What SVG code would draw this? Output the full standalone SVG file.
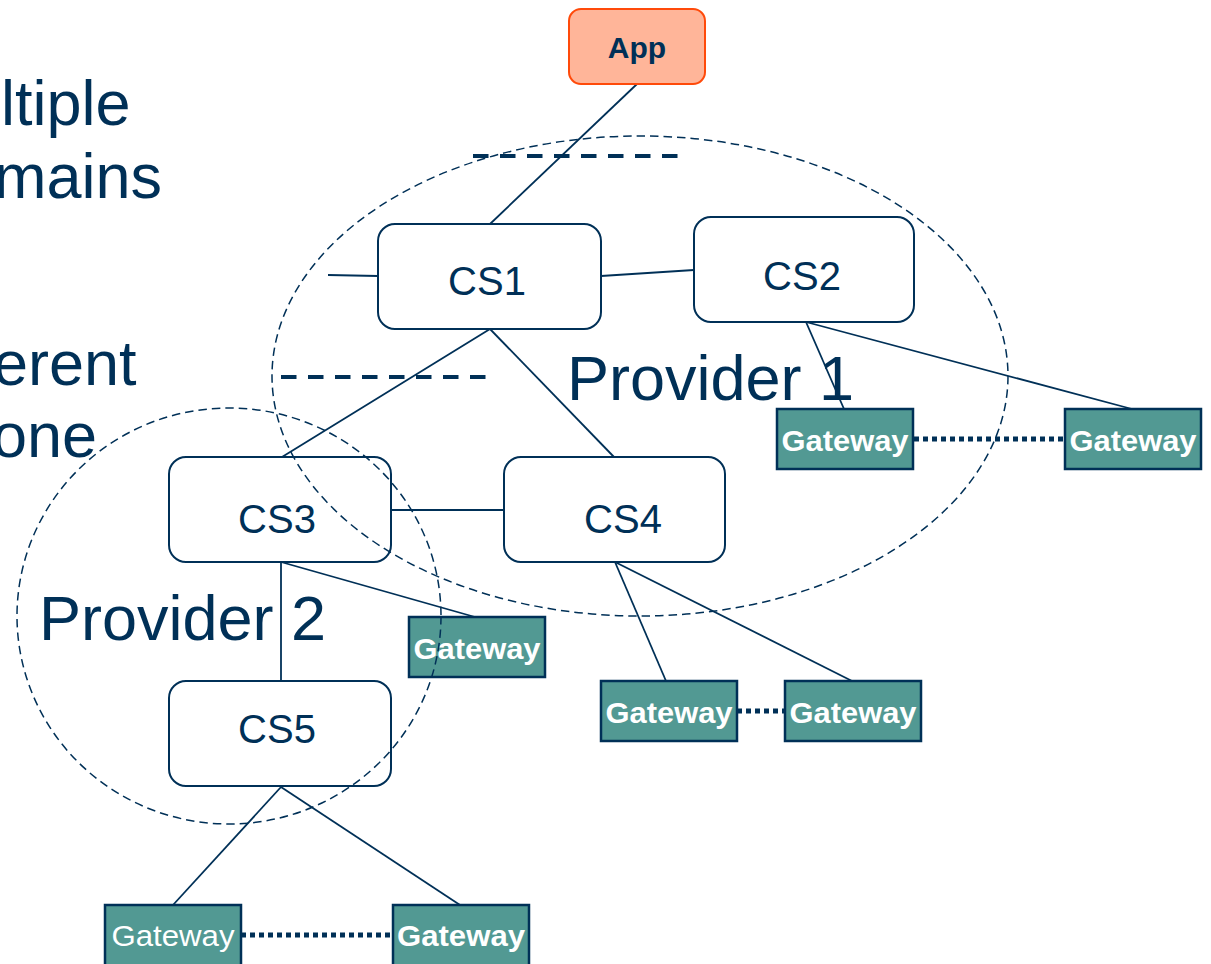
<svg xmlns="http://www.w3.org/2000/svg" width="1211" height="964" viewBox="0 0 1211 964">
<style>
.ln{stroke:#003057;stroke-width:1.8;fill:none}
.dot{stroke:#003057;stroke-width:5;stroke-dasharray:5 4;fill:none}
.dash{stroke:#003057;stroke-width:4;stroke-dasharray:15.5 11.5;fill:none}
.ell{stroke:#003057;stroke-width:1.5;stroke-dasharray:8.5 5;fill:none}
.cs rect{fill:#fff;stroke:#003057;stroke-width:2}
.cs text{font-family:"Liberation Sans",Arial,sans-serif;font-size:40px;fill:#003057;text-anchor:middle}
.gw rect{fill:#529993;stroke:#003057;stroke-width:2.5}
.gw text{font-family:"Liberation Sans",Arial,sans-serif;font-size:30px;font-weight:bold;fill:#fff;text-anchor:middle}
.big{font-family:"Liberation Sans",Arial,sans-serif;font-size:63px;fill:#003057}
</style>
<rect width="1211" height="964" fill="#fff"/>
<g id="side-text">
<text class="big" x="1" y="125">ltiple</text>
<text class="big" x="-6" y="198">mains</text>
<text class="big" x="-7" y="385">erent</text>
<text class="big" x="-8" y="457">one</text>
</g>
<g id="connectors">
<line class="dash" x1="473" y1="156" x2="682" y2="156"/>
<line class="dash" x1="281" y1="377" x2="489" y2="377"/>
<line class="ln" x1="637" y1="84" x2="490" y2="224"/>
<line class="ln" x1="328" y1="275" x2="378" y2="276"/>
<line class="ln" x1="601" y1="276" x2="694" y2="270"/>
<line class="ln" x1="490" y1="329" x2="282" y2="457"/>
<line class="ln" x1="490" y1="329" x2="614" y2="457"/>
<line class="ln" x1="392" y1="510" x2="504" y2="510"/>
<line class="ln" x1="615" y1="562" x2="666" y2="681"/>
<line class="ln" x1="615" y1="562" x2="852" y2="681"/>
<line class="ln" x1="281" y1="562" x2="475" y2="617"/>
<line class="ln" x1="281" y1="787" x2="173" y2="905"/>
<line class="ln" x1="281" y1="787" x2="460" y2="905"/>
<line class="dot" x1="914" y1="439" x2="1065" y2="439"/>
<line class="dot" x1="737" y1="711" x2="785" y2="711"/>
<line class="dot" x1="241" y1="935" x2="393" y2="935"/>
</g>
<g id="labels">
<text class="big" x="567" y="400">Provider 1</text>
<text class="big" x="39" y="640">Provider 2</text>
</g>
<g id="connectors-over-labels">
<line class="ln" x1="281" y1="562" x2="281" y2="681"/>
<line class="ln" x1="806" y1="322" x2="844" y2="409"/>
<line class="ln" x1="806" y1="322" x2="1132" y2="409"/>
</g>
<g id="app">
<rect x="569" y="9" width="136" height="75" rx="12" fill="#FFB599" stroke="#FF4A0A" stroke-width="2"/>
<text x="637" y="58" font-family="Liberation Sans,Arial,sans-serif" font-size="30" font-weight="bold" fill="#003057" text-anchor="middle">App</text>
</g>
<g id="cs1" class="cs"><rect x="378" y="224" width="223" height="105" rx="17"/><text x="487" y="295">CS1</text></g>
<g id="cs2" class="cs"><rect x="694" y="217" width="220" height="105" rx="17"/><text x="802" y="290">CS2</text></g>
<g id="cs3" class="cs"><rect x="169" y="457" width="222" height="105" rx="17"/><text x="277" y="533">CS3</text></g>
<g id="cs4" class="cs"><rect x="504" y="457" width="221" height="105" rx="17"/><text x="623" y="533">CS4</text></g>
<g id="cs5" class="cs"><rect x="169" y="681" width="222" height="105" rx="17"/><text x="277" y="743">CS5</text></g>
<g id="gw1" class="gw"><rect x="777" y="409" width="136" height="60"/><text x="845" y="451" textLength="127" lengthAdjust="spacingAndGlyphs">Gateway</text></g>
<g id="gw2" class="gw"><rect x="1065" y="409" width="136" height="60"/><text x="1133" y="451" textLength="127" lengthAdjust="spacingAndGlyphs">Gateway</text></g>
<g id="gw3" class="gw"><rect x="409" y="617" width="136" height="60"/><text x="477" y="659" textLength="127" lengthAdjust="spacingAndGlyphs">Gateway</text></g>
<g id="gw4" class="gw"><rect x="601" y="681" width="136" height="60"/><text x="669" y="723" textLength="127" lengthAdjust="spacingAndGlyphs">Gateway</text></g>
<g id="gw5" class="gw"><rect x="785" y="681" width="136" height="60"/><text x="853" y="723" textLength="127" lengthAdjust="spacingAndGlyphs">Gateway</text></g>
<g id="gw6" class="gw"><rect x="105" y="905" width="136" height="62"/><text x="173" y="946" style="font-weight:normal" textLength="123" lengthAdjust="spacingAndGlyphs">Gateway</text></g>
<g id="gw7" class="gw"><rect x="393" y="905" width="136" height="62"/><text x="461" y="946" textLength="128" lengthAdjust="spacingAndGlyphs">Gateway</text></g>
<g id="regions">
<ellipse class="ell" cx="640" cy="376" rx="368" ry="240"/>
<ellipse class="ell" cx="229" cy="616" rx="212" ry="208"/>
</g>
</svg>
